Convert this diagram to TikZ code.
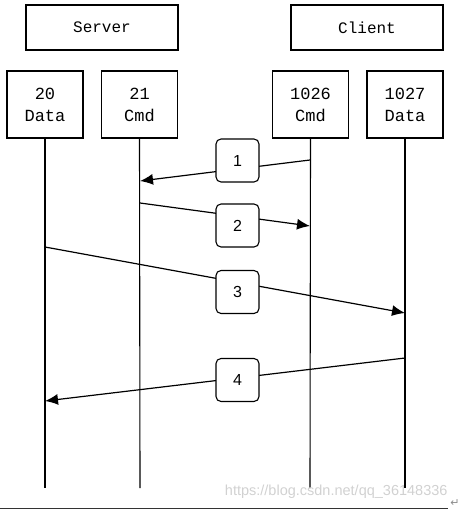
\documentclass[tikz,border=0pt]{standalone}
\usepackage{fontspec}
\setmonofont{Liberation Mono}
\newfontfamily\numfont{Liberation Sans}
\newfontfamily\symfont{DejaVu Sans}
\usetikzlibrary{arrows.meta}

\tikzset{
  hostbox/.style={draw, line width=1.3pt, minimum width=152pt, minimum height=45pt,
    inner sep=0pt, font=\ttfamily\fontsize{16}{19}\selectfont},
  portbox/.style={draw, line width=1.3pt, minimum width=76pt, minimum height=67pt,
    inner sep=0pt, align=center, font=\ttfamily\fontsize{17}{22}\selectfont},
  numbox/.style={draw, fill=white, rounded corners=5pt, line width=1.1pt,
    minimum width=43pt, minimum height=43pt, inner sep=0pt,
    font=\numfont\fontsize{16}{19}\selectfont},
  lifeline/.style={line width=1.1pt},
  msg/.style={line width=1.2pt, -{Latex[length=13pt,width=11pt]}},
}

\begin{document}
\begin{tikzpicture}[x=1pt,y=-1pt]
  \useasboundingbox (0,0) rectangle (460,510);

  % hosts
  \node[hostbox] (server) at (102,27.5) {Server};
  \node[hostbox] (client) at (367,27.5) {Client};

  % ports
  \node[portbox] (p20)   at (45,104.5)  {20\\Data};
  \node[portbox] (p21)   at (139.5,104.5) {21\\Cmd};
  \node[portbox] (p1026) at (310.5,104.5) {1026\\Cmd};
  \node[portbox] (p1027) at (405,104.5) {1027\\Data};

  % lifeline ends
  \coordinate (e20)   at (45,488);
  \coordinate (e21)   at (140,488);
  \coordinate (e1026) at (310,488);
  \coordinate (e1027) at (405,488);

  \draw[lifeline] (p20.south)   -- (e20);
  \draw[lifeline] (p21.south)   -- (e21);
  \draw[lifeline] (p1026.south) -- (e1026);
  \draw[lifeline] (p1027.south) -- (e1027);

  % message end points
  \coordinate (a1) at (310,160); \coordinate (b1) at (140,181);
  \coordinate (a2) at (140,203); \coordinate (b2) at (310,226);
  \coordinate (a3) at (45,247);  \coordinate (b3) at (405,313);
  \coordinate (a4) at (405,358); \coordinate (b4) at (45,401);

  \draw[msg] (a1) -- (b1);
  \draw[msg] (a2) -- (b2);
  \draw[msg] (a3) -- (b3);
  \draw[msg] (a4) -- (b4);

  \node[numbox] (n1) at (237.5,160.5) {1};
  \node[numbox] (n2) at (237.5,225.5) {2};
  \node[numbox] (n3) at (237.5,292)   {3};
  \node[numbox] (n4) at (237.5,380)   {4};

  % page rule and watermark
  \node[text=black!18, font=\numfont\fontsize{14.5}{17}\selectfont, anchor=east]
    (mark) at (451,492) {https://blog.csdn.net/qq\_36148336};
  \coordinate (r0) at (0,508);
  \coordinate (r1) at (448,508);
  \draw[line width=1pt, black!80] (r0) -- (r1);
  \node[text=black!45, font=\symfont\fontsize{11}{13}\selectfont] (ret) at (455,503) {↵};
\end{tikzpicture}
\end{document}
